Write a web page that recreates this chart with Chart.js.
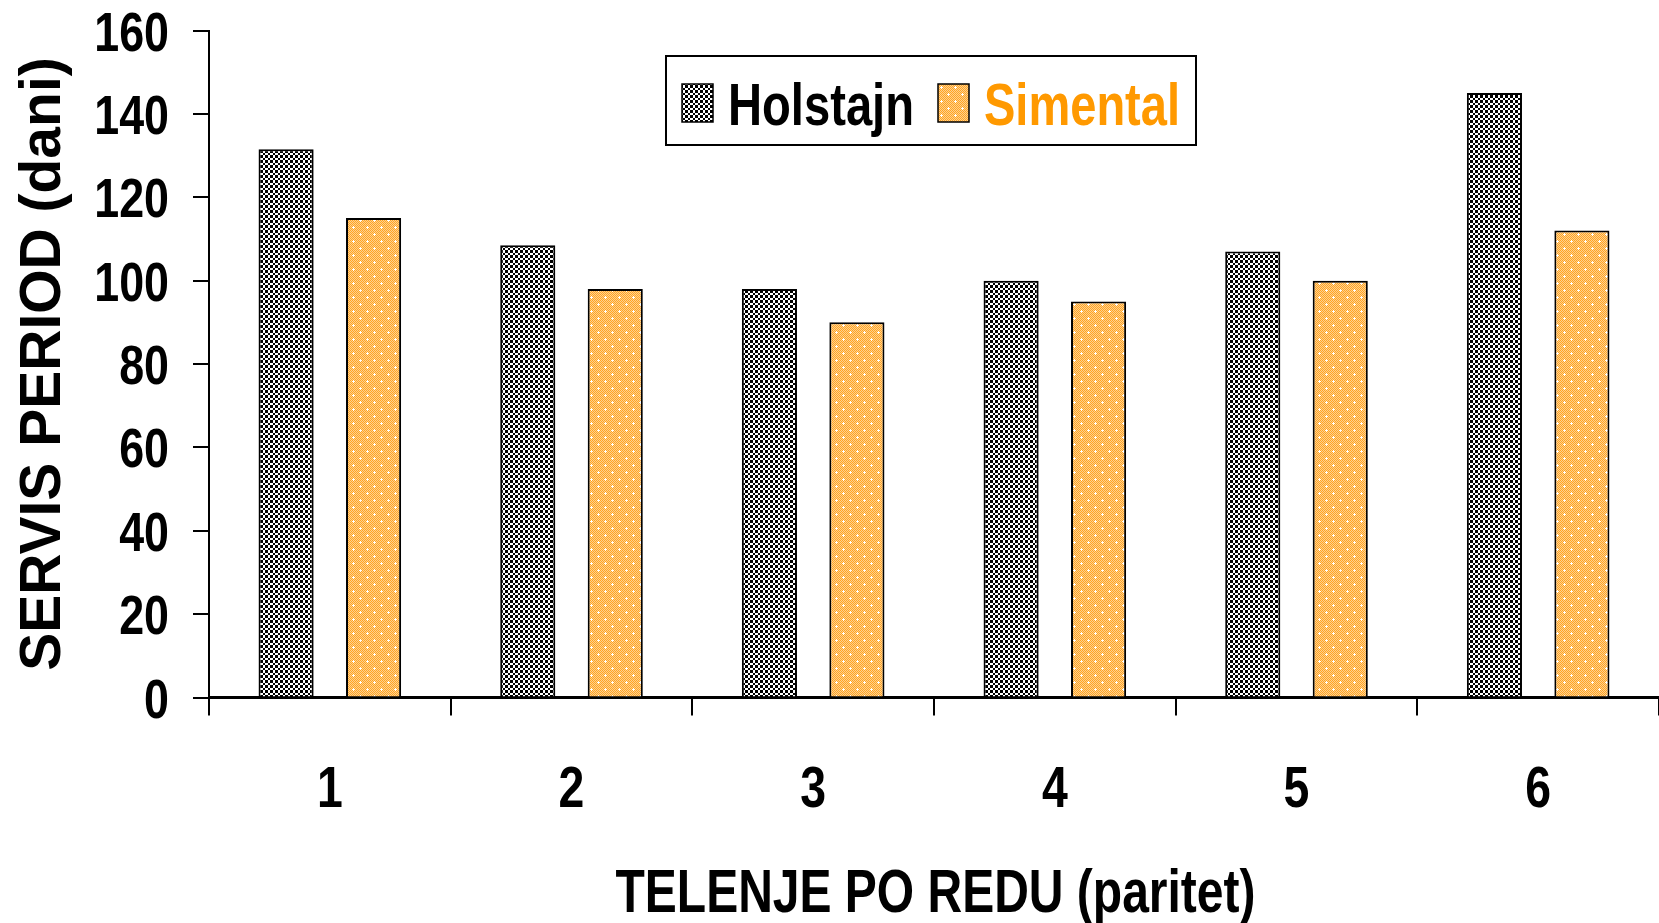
<!DOCTYPE html>
<html>
<head>
<meta charset="utf-8">
<title>Servis period po telenju</title>
<script src="https://cdn.jsdelivr.net/npm/chart.js@4.4.1/dist/chart.umd.min.js"></script>
<style>
  html, body { margin: 0; padding: 0; background: #fff; }
  #wrap { width: 1659px; height: 923px; }
</style>
</head>
<body>
<div id="wrap"><canvas id="c" width="1659" height="923"></canvas></div>
<script>
// Calving order (parity) and service period in days per breed
const categories = ['1', '2', '3', '4', '5', '6'];
const seriesNames = ['Holstajn', 'Simental'];
const holstajnDays = [131.5, 108.5, 98, 100, 107, 145];
const simentalDays = [115, 98, 90, 95, 100, 112];
const yTicks = [0, 20, 40, 60, 80, 100, 120, 140, 160];
const xTitle = 'TELENJE PO REDU (paritet)';
const yTitle = 'SERVIS PERIOD (dani)';

const WIDE = "'Liberation Sans', Arial, sans-serif";

const canvas = document.getElementById('c');
const ctx = canvas.getContext('2d');

// Fine black/white checker fill
function checkerPattern(c2d) {
  const t = document.createElement('canvas');
  t.width = 5; t.height = 5;
  const g = t.getContext('2d');
  g.fillStyle = '#ffffff'; g.fillRect(0, 0, 5, 5);
  g.fillStyle = '#000000';
  g.fillRect(0, 0, 3, 3);
  g.fillRect(3, 3, 2, 2);
  return c2d.createPattern(t, 'repeat');
}

// Orange dotted fill with small white crosses
function confettiPattern(c2d) {
  const n = 14;
  const t = document.createElement('canvas');
  t.width = n; t.height = n;
  const g = t.getContext('2d');
  for (let y = 0; y < n; y++) {
    for (let x = 0; x < n; x++) {
      g.fillStyle = ((x + y) % 2 === 0) ? '#ffa424' : '#ffd18f';
      g.fillRect(x, y, 1, 1);
    }
  }
  g.fillStyle = '#ffffff';
  [[3, 3], [10, 10]].forEach(([cx, cy]) => {
    g.fillRect(cx - 1, cy, 3, 1);
    g.fillRect(cx, cy - 1, 1, 3);
  });
  return c2d.createPattern(t, 'repeat');
}

const fills = [checkerPattern(ctx), confettiPattern(ctx)];
const textColors = ['#000000', '#ff9900'];

// Condensed bold text: Liberation Sans Bold squeezed horizontally
function narrowText(c, text, x, y, size, sx, align) {
  c.save();
  c.font = 'bold ' + size + 'px ' + WIDE;
  c.textBaseline = 'alphabetic';
  c.textAlign = align;
  c.translate(x, y);
  c.scale(sx, 1);
  c.fillText(text, 0, 0);
  c.restore();
}

// Tick labels and the category-axis title in a condensed face
const condensedAxisText = {
  id: 'condensedAxisText',
  afterDraw(chart, args, o) {
    const c = chart.ctx;
    const xs = chart.scales.x;
    const ys = chart.scales.y;
    const area = chart.chartArea;
    c.save();
    c.fillStyle = '#000000';
    ys.ticks.forEach(t => {
      const y = ys.getPixelForValue(t.value);
      narrowText(c, String(t.value), o.yLabelRight, y + 0.358 * o.yTickSize,
                 o.yTickSize, o.squeeze, 'right');
    });
    xs.getLabels().forEach((lab, i) => {
      const x = xs.getPixelForTick(i);
      narrowText(c, lab, x, area.bottom + o.xTickDrop, o.xTickSize, o.squeeze, 'center');
    });
    c.font = 'bold ' + o.titleSize + 'px ' + WIDE;
    const w = c.measureText(xTitle).width;
    narrowText(c, xTitle, (area.left + area.right) / 2 + o.titleShift,
               area.bottom + o.titleDrop, o.titleSize, o.titleWidth / w, 'center');
    c.restore();
  }
};

// Framed legend drawn inside the plot area
const boxLegend = {
  id: 'boxLegend',
  afterDraw(chart, args, opts) {
    const c = chart.ctx;
    const b = opts.box;
    c.save();
    c.fillStyle = '#ffffff';
    c.fillRect(b.x, b.y, b.w, b.h);
    c.lineWidth = 2;
    c.strokeStyle = '#000000';
    c.strokeRect(b.x, b.y, b.w, b.h);
    chart.data.datasets.forEach((ds, i) => {
      const it = opts.items[i];
      c.fillStyle = ds.backgroundColor;
      c.fillRect(it.sx, opts.swatchY, opts.swatchW, opts.swatchH);
      c.lineWidth = 1.5;
      c.strokeStyle = '#000000';
      c.strokeRect(it.sx, opts.swatchY, opts.swatchW, opts.swatchH);
      c.font = 'bold ' + opts.fontSize + 'px ' + WIDE;
      const m = c.measureText(ds.label).width;
      c.fillStyle = textColors[i];
      narrowText(c, ds.label, it.tx, opts.baseline, opts.fontSize, it.tw / m, 'left');
    });
    c.restore();
  }
};

new Chart(ctx, {
  type: 'bar',
  data: {
    labels: categories,
    datasets: [
      {
        label: seriesNames[0],
        data: holstajnDays,
        backgroundColor: fills[0],
        borderColor: '#000000',
        borderWidth: 2,
        borderSkipped: 'bottom',
        categoryPercentage: 0.724,
        barPercentage: 0.63
      },
      {
        label: seriesNames[1],
        data: simentalDays,
        backgroundColor: fills[1],
        borderColor: '#000000',
        borderWidth: 2,
        borderSkipped: 'bottom',
        categoryPercentage: 0.724,
        barPercentage: 0.63
      }
    ]
  },
  options: {
    responsive: false,
    animation: false,
    devicePixelRatio: 1,
    layout: { padding: { top: 30.5, right: 0, bottom: 0, left: 0 } },
    plugins: {
      legend: { display: false },
      tooltip: { enabled: false },
      condensedAxisText: {
        squeeze: 0.8,
        yLabelRight: 169,
        yTickSize: 56,
        xTickSize: 58,
        xTickDrop: 109.5,
        titleSize: 61,
        titleWidth: 640,
        titleShift: 1.5,
        titleDrop: 214.5
      },
      boxLegend: {
        box: { x: 666, y: 56, w: 530, h: 89 },
        swatchY: 84, swatchW: 31, swatchH: 38,
        baseline: 125, fontSize: 60,
        items: [
          { sx: 682, tx: 728, tw: 186 },
          { sx: 938, tx: 984, tw: 196 }
        ]
      }
    },
    scales: {
      x: {
        grid: {
          display: true,
          drawOnChartArea: false,
          drawTicks: true,
          tickLength: 18,
          color: '#000000',
          lineWidth: 2,
          offset: true
        },
        border: { display: true, color: '#000000', width: 3 },
        ticks: { display: false },
        title: { display: false, text: xTitle },
        afterFit(scale) {
          scale.height = 923 - 697.5;
          scale.paddingLeft = 0;
          scale.paddingRight = 0;
        }
      },
      y: {
        min: 0,
        max: 160,
        afterBuildTicks(scale) {
          scale.ticks = yTicks.map(v => ({ value: v }));
        },
        grid: {
          display: true,
          drawOnChartArea: false,
          drawTicks: true,
          tickLength: 16,
          color: '#000000',
          lineWidth: 2
        },
        border: { display: true, color: '#000000', width: 2 },
        ticks: { display: false },
        title: {
          display: true,
          text: yTitle,
          color: '#000000',
          padding: { top: 10, bottom: 0 },
          font: { family: WIDE, size: 57, weight: 'bold', lineHeight: 1.2 }
        },
        afterFit(scale) {
          scale.width = 209;
          scale.paddingTop = 0;
          scale.paddingBottom = 0;
        }
      }
    }
  },
  plugins: [condensedAxisText, boxLegend]
});
</script>
</body>
</html>
